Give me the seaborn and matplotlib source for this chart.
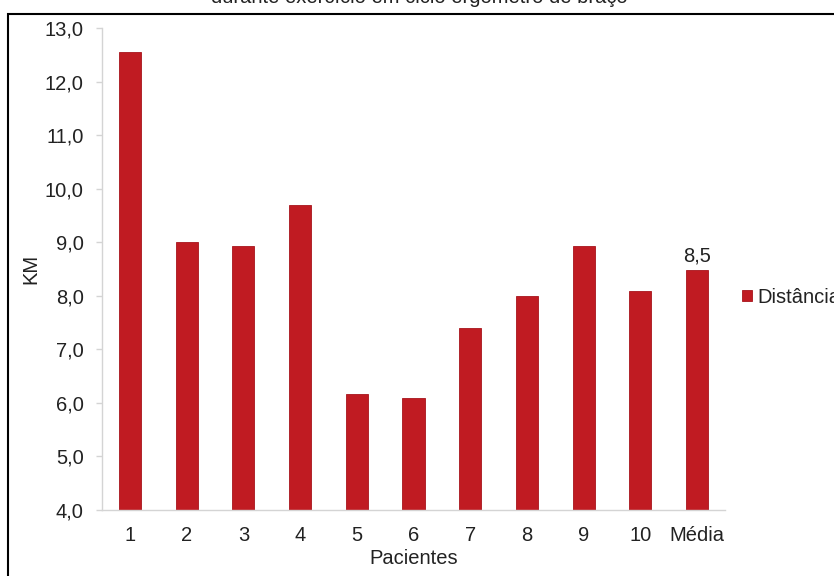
import matplotlib
matplotlib.use("Agg")
import matplotlib.pyplot as plt
from matplotlib.patches import Rectangle
import seaborn as sns
import pandas as pd

# Distance covered (km) per patient, plus the group mean
pacientes = ["1", "2", "3", "4", "5", "6", "7", "8", "9", "10", "Média"]
distancia = [12.55, 9.0, 8.93, 9.7, 6.17, 6.09, 7.4, 8.0, 8.93, 8.09, 8.48]
yticks = [4.0, 5.0, 6.0, 7.0, 8.0, 9.0, 10.0, 11.0, 12.0, 13.0]

df = pd.DataFrame({"Pacientes": pacientes, "KM": distancia})

sns.set_style("white")
plt.rcParams["font.family"] = ["Liberation Sans", "DejaVu Sans"]

bar_color = "#C01B22"
text_color = "#222222"
axis_gray = "#d4d4d4"
fs = 14.5

fig = plt.figure(figsize=(8.34, 5.76), dpi=100)
ax = fig.add_axes([0.1218, 0.1146, 0.748, 0.8368])

sns.barplot(data=df, x="Pacientes", y="KM", order=pacientes, color=bar_color,
            width=0.39, saturation=1, label="Distância", ax=ax,
            edgecolor="#a8141b", linewidth=0.6)

ax.set_ylim(4.0, 13.0)
ax.set_xlim(-0.5, len(pacientes) - 0.5)
ax.set_yticks(yticks)
ax.set_yticklabels([f"{v:.1f}".replace(".", ",") for v in yticks])

for side in ("top", "right"):
    ax.spines[side].set_visible(False)
for side in ("left", "bottom"):
    ax.spines[side].set_color(axis_gray)
    ax.spines[side].set_linewidth(1.0)

ax.tick_params(axis="y", left=True, length=4, width=1, color=axis_gray,
               labelsize=fs, labelcolor=text_color, pad=9)
ax.tick_params(axis="x", bottom=False, labelsize=fs, labelcolor=text_color, pad=8)

ax.set_xlabel("Pacientes", fontsize=fs, color=text_color, labelpad=3)
ax.set_ylabel("KM", fontsize=fs, color=text_color, labelpad=3)

# Value label above the mean bar
media = distancia[-1]
ax.text(len(pacientes) - 1, media + 0.08, f"{media:.1f}".replace(".", ","),
        ha="center", va="bottom", fontsize=fs, color=text_color)

# Legend to the right of the plot
handles, labels = ax.get_legend_handles_labels()
fig.legend(handles, labels, loc="center left", bbox_to_anchor=(0.868, 0.484),
           frameon=False, fontsize=fs, handlelength=0.5, handleheight=0.5,
           handletextpad=0.25, labelcolor=text_color)
if ax.get_legend() is not None:
    ax.get_legend().remove()

# Title (top part falls outside the canvas)
fig.text(0.503, 1.004, "durante exercício em ciclo ergômetro de braço",
         ha="center", va="center", fontsize=fs, color=text_color)

# Outer frame around the chart
fig.patches.append(Rectangle((8 / 834, -0.05), 1.0, 1 - 14 / 576 + 0.05,
                             transform=fig.transFigure, fill=False,
                             edgecolor="black", linewidth=1.5))

fig.savefig("out.png", dpi=100)
